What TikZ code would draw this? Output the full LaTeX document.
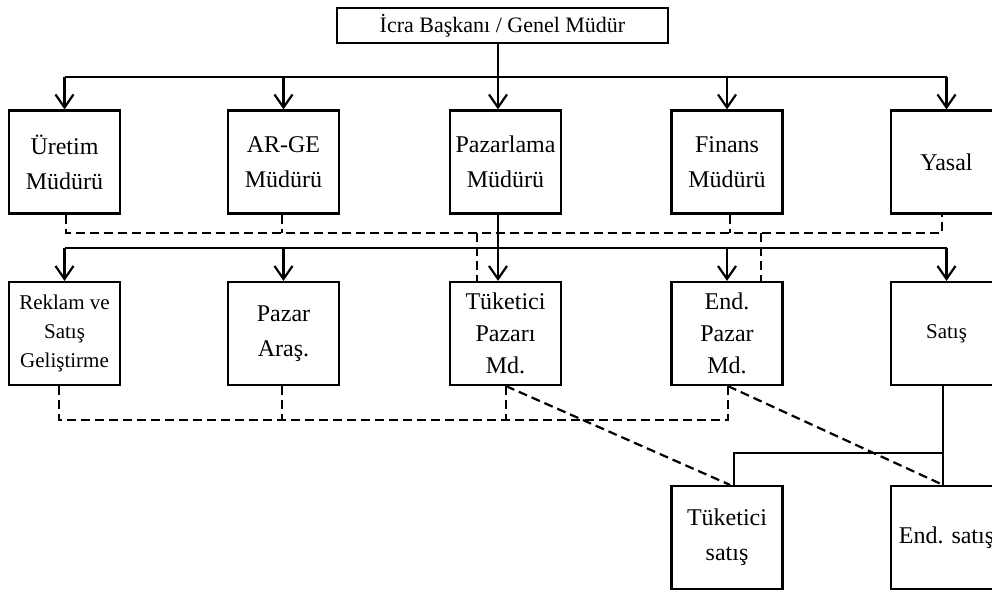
\documentclass[tikz,border=0pt]{standalone}
\usepackage{fontspec}
\setmainfont{Liberation Serif}
\usetikzlibrary{arrows.meta}
\begin{document}
\begin{tikzpicture}[x=1pt,y=-1pt,
  box/.style={draw, line width=2.2pt, minimum width=111pt, minimum height=103pt,
    inner sep=0pt, align=center, font=\fontsize{24}{35}\selectfont},
  tribox/.style={box, font=\fontsize{24}{32}\selectfont},
  smallbox/.style={box, font=\fontsize{21}{29}\selectfont},
  headbox/.style={draw, line width=2.2pt, minimum width=331pt, minimum height=35pt,
    inner sep=0pt, font=\fontsize{22}{26}\selectfont},
  conn/.style={line width=2.2pt},
  arr/.style={conn, -{Straight Barb[length=13pt,width=18pt,line width=2.2pt]}},
  dsh/.style={line width=2.2pt, dash pattern=on 9pt off 5pt}]
\useasboundingbox (0,0) rectangle (992,592);
\clip (0,0) rectangle (992,592);

% head of the organisation
\node[headbox] (ceo) at (502.5,25.5) {İcra Başkanı / Genel Müdür};

% first level
\node[box] (ur) at (64.5,162) {Üretim\\Müdürü};
\node[box] (ar) at (283.5,162) {AR-GE\\Müdürü};
\node[box] (pz) at (505.5,162) {Pazarlama\\Müdürü};
\node[box] (fn) at (727,162) {Finans\\Müdürü};
\node[box] (ys) at (946.5,162) {Yasal};

% second level
\node[smallbox] (rk) at (64.5,333.5) {Reklam ve\\Satış\\Geliştirme};
\node[box] (pa) at (283.5,333.5) {Pazar\\Araş.};
\node[tribox] (tp) at (505.5,333.5) {Tüketici\\Pazarı\\Md.};
\node[tribox] (ep) at (727,333.5) {End.\\Pazar\\Md.};
\node[smallbox] (st) at (946.5,333.5) {Satış};

% sales units
\node[box] (ts) at (727,537.5) {Tüketici\\satış};
\node[box] (es) at (946.5,537.5) {End. satış};

% bus levels and attachment points
\coordinate (spine) at (498,0);
\coordinate (busA) at (0,77);
\coordinate (busB) at (0,248);
\coordinate (dtop) at (0,233);
\coordinate (dbot) at (0,420);
\coordinate (busC) at (0,453);

\coordinate (urd) at ([xshift=1.5pt]ur.south);
\coordinate (ard) at ([xshift=-1.5pt]ar.south);
\coordinate (fnd) at ([xshift=3pt]fn.south);
\coordinate (ysd) at ([xshift=-4.5pt]ys.south);
\coordinate (tpd) at ([xshift=-28.5pt]tp.north);
\coordinate (epd) at ([xshift=34pt]ep.north);

\coordinate (rkb) at ([xshift=-5.5pt]rk.south);
\coordinate (pab) at ([xshift=-1.5pt]pa.south);
\coordinate (tpb) at ([xshift=0.5pt]tp.south);
\coordinate (epb) at ([xshift=1pt]ep.south);
\coordinate (stb) at ([xshift=-3.5pt]st.south);
\coordinate (tst) at ([xshift=3pt]ts.north);
\coordinate (tsc) at ([xshift=7pt]ts.north);
\coordinate (est) at ([xshift=-3.5pt]es.north);

% solid reporting lines, first level
\draw[conn] (ceo.south -| spine) -- (busA -| spine);
\draw[conn] (busA -| ur.north) -- (busA -| ys.north);
\draw[arr] (busA -| ur.north) -- (ur.north);
\draw[arr] (busA -| ar.north) -- (ar.north);
\draw[arr] (busA -| spine) -- (pz.north -| spine);
\draw[arr] (busA -| fn.north) -- (fn.north);
\draw[arr] (busA -| ys.north) -- (ys.north);

% solid reporting lines, second level
\draw[arr] (pz.south -| spine) -- (tp.north -| spine);
\draw[conn] (busB -| rk.north) -- (busB -| st.north);
\draw[arr] (busB -| rk.north) -- (rk.north);
\draw[arr] (busB -| pa.north) -- (pa.north);
\draw[arr] (busB -| fn.north) -- (ep.north);
\draw[arr] (busB -| st.north) -- (st.north);

% sales units
\draw[conn] (stb) -- (est);
\draw[conn] (busC -| stb) -- (busC -| tsc) -- (tsc);

% dashed coordination lines, upper
\draw[dsh] (urd) -- (urd |- dtop) -- (ysd |- dtop) -- (ysd);
\draw[dsh] (ard) -- (ard |- dtop);
\draw[dsh] (fnd) -- (fnd |- dtop);
\draw[dsh] (tpd |- dtop) -- (tpd);
\draw[dsh] (epd |- dtop) -- (epd);

% dashed coordination lines, lower
\draw[dsh] (rkb) -- (rkb |- dbot) -- (epb |- dbot) -- (epb);
\draw[dsh] (pab) -- (pab |- dbot);
\draw[dsh] (tpb) -- (tpb |- dbot);
\draw[dsh] (tpb) -- (tst);
\draw[dsh] (epb) -- (est);
\end{tikzpicture}
\end{document}
